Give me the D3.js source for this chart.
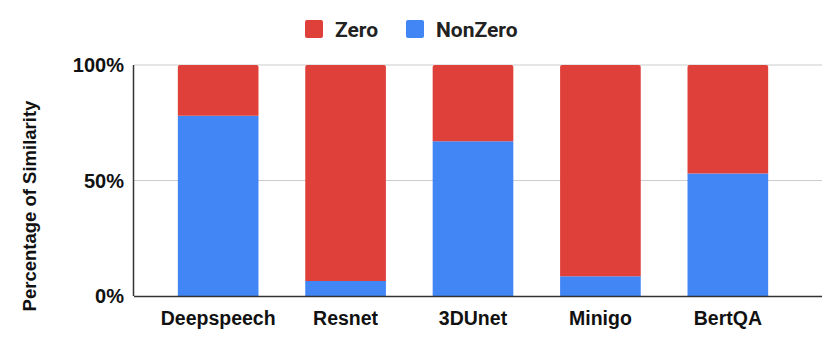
<!DOCTYPE html>
<html>
<head>
<meta charset="utf-8">
<script src="https://cdn.jsdelivr.net/npm/d3@7"></script>
<style>
  body { margin: 0; background: #fff; }
  text { font-family: "Liberation Sans", Arial, sans-serif; }
</style>
</head>
<body>
<div id="chart"></div>
<script>
// data
var categories = ["Deepspeech", "Resnet", "3DUnet", "Minigo", "BertQA"];
var nonZero = [78, 6.5, 67, 8.5, 53];
var zero = [22, 93.5, 33, 91.5, 47];
var seriesNames = ["Zero", "NonZero"];
var yTicks = [0, 50, 100];

var W = 830, H = 348;
var margin = {top: 65, right: 8, bottom: 52, left: 134};
var width = W - margin.left - margin.right;
var height = H - margin.top - margin.bottom;

var color = d3.scaleOrdinal()
  .domain(seriesNames)
  .range(["#e0403a", "#4285f4"]);

var svg = d3.select("#chart").append("svg")
    .attr("width", W)
    .attr("height", H);

var g = svg.append("g")
    .attr("transform", "translate(" + margin.left + "," + margin.top + ")");

var x = d3.scaleBand()
  .domain(categories)
  .range([0, 678])
  .paddingInner(0.367)
  .paddingOuter(0.344);

var y = d3.scaleLinear()
  .domain([0, 100])
  .range([height, 0]);

// gridlines
g.selectAll(".grid")
  .data(yTicks.filter(function(d) { return d > 0; }))
  .enter().append("line")
    .attr("x1", 0)
    .attr("x2", width)
    .attr("y1", function(d) { return y(d); })
    .attr("y2", function(d) { return y(d); })
    .attr("stroke", "#cccccc")
    .attr("stroke-width", 1);

// stacked bars
var rows = categories.map(function(c, i) {
  return {cat: c, NonZero: nonZero[i], Zero: zero[i]};
});
var stack = d3.stack().keys(["NonZero", "Zero"])(rows);

g.selectAll(".series")
  .data(stack)
  .enter().append("g")
    .attr("fill", function(d) { return color(d.key); })
  .selectAll("path")
  .data(function(d) { return d.map(function(v) { v.key = d.key; return v; }); })
  .enter().append("path")
    .attr("d", function(d) {
      var x0 = x(d.data.cat), w = x.bandwidth();
      var y0 = y(d[1]), y1 = y(d[0]);
      var r = d.key === "Zero" ? 2 : 0;
      return "M" + x0 + "," + y1 +
        "V" + (y0 + r) +
        "Q" + x0 + "," + y0 + " " + (x0 + r) + "," + y0 +
        "H" + (x0 + w - r) +
        "Q" + (x0 + w) + "," + y0 + " " + (x0 + w) + "," + (y0 + r) +
        "V" + y1 + "Z";
    });

// axes lines
g.append("line")
  .attr("x1", 0).attr("x2", width)
  .attr("y1", height + 0.5).attr("y2", height + 0.5)
  .attr("stroke", "#333").attr("stroke-width", 1.5);
g.append("line")
  .attr("x1", -0.5).attr("x2", -0.5)
  .attr("y1", 0).attr("y2", height)
  .attr("stroke", "#333").attr("stroke-width", 1.5);

// y tick labels
g.selectAll(".ylab")
  .data(yTicks)
  .enter().append("text")
    .attr("x", -10)
    .attr("y", function(d) { return y(d); })
    .attr("dy", "0.35em")
    .attr("text-anchor", "end")
    .style("font-size", "20px")
    .style("font-weight", "bold")
    .attr("fill", "#111")
    .text(function(d) { return d + "%"; });

// x labels
g.selectAll(".xlab")
  .data(categories)
  .enter().append("text")
    .attr("x", function(d) { return x(d) + x.bandwidth() / 2; })
    .attr("y", height + 29)
    .attr("text-anchor", "middle")
    .style("font-size", "19.5px")
    .style("font-weight", "bold")
    .attr("fill", "#111")
    .text(function(d) { return d; });

// y title
svg.append("text")
  .attr("transform", "translate(36,206) rotate(-90)")
  .attr("text-anchor", "middle")
  .style("font-size", "18.5px")
  .style("font-weight", "bold")
  .attr("fill", "#111")
  .text("Percentage of Similarity");

// legend
var legendX = [305, 406];
var legend = svg.selectAll(".legend")
  .data(seriesNames)
  .enter().append("g")
    .attr("transform", function(d, i) { return "translate(" + legendX[i] + ",20)"; });
legend.append("rect")
  .attr("width", 18).attr("height", 18).attr("rx", 2)
  .attr("fill", function(d) { return color(d); });
legend.append("text")
  .attr("x", 30).attr("y", 10)
  .attr("dy", "0.35em")
  .style("font-family", "Roboto, sans-serif")
  .style("font-size", "21px")
  .style("font-weight", "bold")
  .attr("fill", "#222")
  .text(function(d) { return d; });
</script>
</body>
</html>
